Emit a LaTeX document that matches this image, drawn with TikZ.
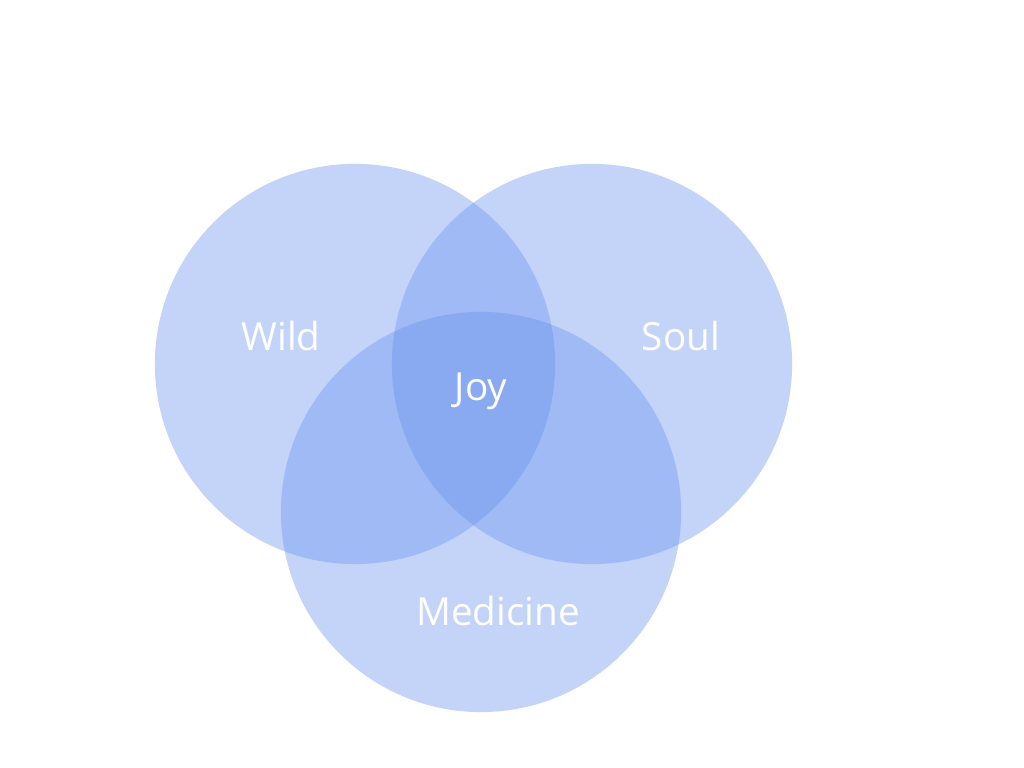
\documentclass[tikz,border=0pt]{standalone}
\usepackage{fontspec}
\setmainfont{Open Sans}
\usetikzlibrary{positioning}
\definecolor{vnBlue}{HTML}{6A94EE}
\tikzset{
 venn/.style={font=\fontsize{11}{13}\selectfont,text=white},
 disc/.style={circle,fill=vnBlue,fill opacity=.4,draw=none,inner sep=0pt,minimum size=4cm},
 tag/.style={text=white,text opacity=1,inner sep=0pt}
}
\begin{document}
\begin{tikzpicture}[venn,x=.01cm,y=.01cm]
 \useasboundingbox[fill=white] (0,0) rectangle (1024,768);
 \coordinate (W) at (355,404); \coordinate (S) at (592,404);
 \coordinate (M) at (481,256);
 \node[disc] (wild) at (W) {};
 \node[disc] (soul) at (S) {};
 \node[disc] (medicine) at (M) {};
 \node[tag] (wildtag) at (281,432) {Wild};
 \node[tag] (soultag) at (681,432) {Soul};
 \node[tag] (joytag) at (481,377) {Joy};
 \node[tag] (medtag) at (498,157) {Medicine};
\end{tikzpicture}
\end{document}
